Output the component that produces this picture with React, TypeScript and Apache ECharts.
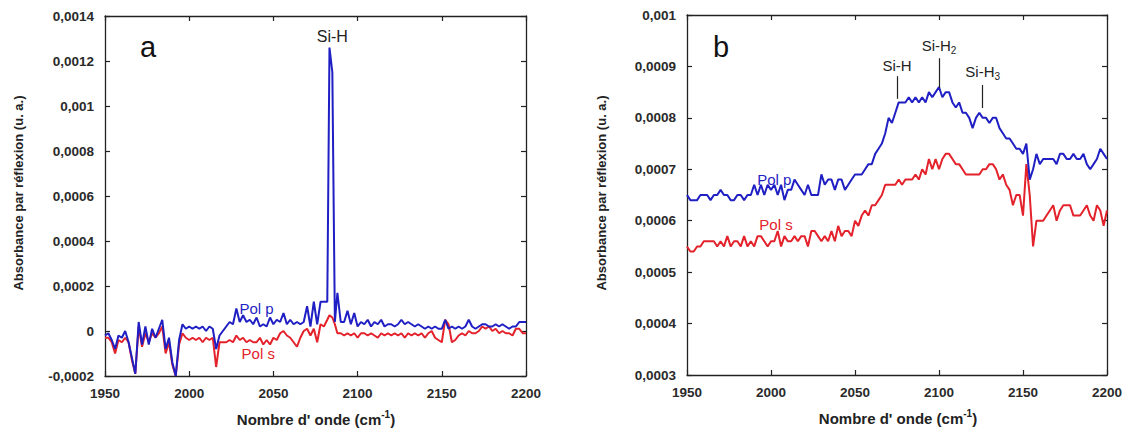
import React, { useEffect, useRef } from "react";
import * as echarts from "echarts";

// ---- Panel a (Si-H region, sample a) ----
const waveA = [
  1950, 1952, 1954, 1956, 1958, 1960, 1962, 1964, 1966, 1968, 1970, 1972, 1974, 1976, 1978, 1980,
  1982, 1984, 1986, 1988, 1990, 1992, 1994, 1996, 1998, 2000, 2002, 2004, 2006, 2008, 2010, 2012,
  2014, 2016, 2018, 2020, 2022, 2024, 2026, 2028, 2030, 2032, 2034, 2036, 2038, 2040, 2042, 2044,
  2046, 2048, 2050, 2052, 2054, 2056, 2058, 2060, 2062, 2064, 2066, 2068, 2070, 2072, 2074, 2076,
  2078, 2080, 2082, 2083.3, 2085, 2086.5, 2088, 2090, 2092, 2094, 2096, 2098, 2100, 2102, 2104, 2106,
  2108, 2110, 2112, 2114, 2116, 2118, 2120, 2122, 2124, 2126, 2128, 2130, 2132, 2134, 2136, 2138,
  2140, 2142, 2144, 2146, 2148, 2150, 2152, 2154, 2156, 2158, 2160, 2162, 2164, 2166, 2168, 2170,
  2172, 2174, 2176, 2178, 2180, 2182, 2184, 2186, 2188, 2190, 2192, 2194, 2196, 2198, 2200,
];
const polPA = [
  -0.2e-4, -0.1e-4, -0.4e-4, -0.8e-4, -0.2e-4, -0.3e-4, 0.0, -0.5e-4, -1.2e-4, -1.9e-4, 0.4e-4, -0.6e-4, 0.2e-4, -0.6e-4, 0.1e-4, -0.3e-4,
  0.1e-4, 0.5e-4, -0.8e-4, -0.3e-4, -1.4e-4, -2.0e-4, -0.4e-4, 0.3e-4, 0.1e-4, 0.2e-4, 0.1e-4, 0.2e-4, 0.1e-4, 0.2e-4, 0.0, 0.2e-4,
  0.1e-4, -0.8e-4, -0.2e-4, 0.0, 0.2e-4, 0.4e-4, 0.3e-4, 1.0e-4, 0.4e-4, 0.7e-4, 0.4e-4, 0.5e-4, 0.3e-4, 0.6e-4, 0.2e-4, 0.3e-4,
  0.2e-4, 0.6e-4, 0.3e-4, 0.5e-4, 0.4e-4, 0.8e-4, 0.3e-4, 0.5e-4, 0.3e-4, 0.4e-4, 0.3e-4, 0.4e-4, 1.1e-4, 0.2e-4, 1.3e-4, 0.3e-4,
  1.3e-4, 1.3e-4, 1.3e-4, 12.6e-4, 11.5e-4, 0.4e-4, 1.7e-4, 0.4e-4, 0.4e-4, 0.9e-4, 0.3e-4, 0.8e-4, 0.2e-4, 0.4e-4, 0.3e-4, 0.5e-4,
  0.2e-4, 0.4e-4, 0.3e-4, 0.5e-4, 0.2e-4, 0.3e-4, 0.3e-4, 0.2e-4, 0.3e-4, 0.5e-4, 0.3e-4, 0.4e-4, 0.3e-4, 0.2e-4, 0.3e-4, 0.2e-4,
  0.1e-4, 0.2e-4, 0.1e-4, 0.2e-4, 0.1e-4, 0.1e-4, 0.5e-4, 0.1e-4, 0.2e-4, 0.1e-4, 0.2e-4, 0.1e-4, 0.2e-4, 0.5e-4, 0.2e-4, 0.1e-4,
  0.2e-4, 0.3e-4, 0.3e-4, 0.2e-4, 0.2e-4, 0.3e-4, 0.2e-4, 0.3e-4, 0.2e-4, 0.1e-4, 0.2e-4, 0.2e-4, 0.4e-4, 0.4e-4, 0.4e-4,
];
const polSA = [
  -0.3e-4, -0.3e-4, -0.5e-4, -1.0e-4, -0.4e-4, -0.5e-4, -0.3e-4, -0.5e-4, -1.3e-4, -1.9e-4, 0.2e-4, -0.7e-4, -0.1e-4, -0.5e-4, -0.1e-4, -0.3e-4,
  -0.1e-4, 0.2e-4, -1.0e-4, -0.5e-4, -1.5e-4, -2.0e-4, -0.6e-4, -0.1e-4, -0.3e-4, -0.4e-4, -0.3e-4, -0.4e-4, -0.3e-4, -0.5e-4, -0.3e-4, -0.4e-4,
  -0.3e-4, -1.6e-4, -0.5e-4, -0.5e-4, -0.5e-4, -0.4e-4, -0.5e-4, -0.2e-4, -0.4e-4, -0.3e-4, -0.5e-4, -0.4e-4, -0.5e-4, -0.5e-4, -0.3e-4, -0.6e-4,
  -0.4e-4, -0.6e-4, -0.3e-4, -0.4e-4, -0.1e-4, 0.0, -0.2e-4, -0.3e-4, -0.5e-4, -0.7e-4, -0.3e-4, 0.0, 0.1e-4, -0.2e-4, 0.1e-4, -0.5e-4,
  0.3e-4, 0.2e-4, 0.5e-4, 0.7e-4, 0.6e-4, 0.3e-4, -0.1e-4, -0.1e-4, -0.2e-4, -0.1e-4, -0.2e-4, -0.1e-4, -0.3e-4, -0.1e-4, -0.1e-4, -0.2e-4,
  -0.1e-4, -0.2e-4, -0.3e-4, -0.1e-4, -0.2e-4, -0.1e-4, -0.2e-4, -0.1e-4, -0.2e-4, -0.1e-4, -0.3e-4, -0.1e-4, -0.2e-4, -0.1e-4, -0.2e-4, -0.1e-4,
  -0.3e-4, -0.1e-4, 0.0, -0.3e-4, -0.4e-4, -0.5e-4, 0.5e-4, 0.3e-4, -0.5e-4, -0.4e-4, -0.2e-4, -0.1e-4, -0.2e-4, 0.0, -0.1e-4, -0.1e-4,
  0.0, 0.2e-4, 0.1e-4, 0.2e-4, 0.0, 0.1e-4, -0.1e-4, 0.0, -0.1e-4, -0.1e-4, -0.2e-4, 0.1e-4, 0.1e-4, -0.1e-4, -0.1e-4,
];

// ---- Panel b ----
const waveB = [
  1950, 1952, 1954, 1956, 1958, 1960, 1962, 1964, 1966, 1968, 1970, 1972, 1974, 1976, 1978, 1980,
  1982, 1984, 1986, 1988, 1990, 1992, 1994, 1996, 1998, 2000, 2002, 2004, 2006, 2008, 2010, 2012,
  2014, 2016, 2018, 2020, 2022, 2024, 2026, 2028, 2030, 2032, 2034, 2036, 2038, 2040, 2042, 2044,
  2046, 2048, 2050, 2052, 2054, 2056, 2058, 2060, 2062, 2064, 2066, 2068, 2070, 2072, 2074, 2076,
  2078, 2080, 2082, 2084, 2086, 2088, 2090, 2092, 2094, 2096, 2098, 2100, 2102, 2104, 2106, 2108,
  2110, 2112, 2114, 2116, 2118, 2120, 2122, 2124, 2126, 2128, 2130, 2132, 2134, 2136, 2138, 2140,
  2142, 2144, 2146, 2148, 2150, 2152, 2154, 2156, 2158, 2160, 2162, 2164, 2166, 2168, 2170, 2172,
  2174, 2176, 2178, 2180, 2182, 2184, 2186, 2188, 2190, 2192, 2194, 2196, 2198, 2200,
];
const polPB = [
  0.00065, 0.00064, 0.00064, 0.00064, 0.00065, 0.00065, 0.00065, 0.00064, 0.00065, 0.00065, 0.00066, 0.00065, 0.00065, 0.00064, 0.00064, 0.00065,
  0.00065, 0.00064, 0.00065, 0.00065, 0.00067, 0.00065, 0.00067, 0.00065, 0.00067, 0.00066, 0.00067, 0.00065, 0.00067, 0.00064, 0.00066, 0.00066,
  0.00068, 0.00067, 0.00066, 0.00065, 0.00067, 0.00065, 0.00065, 0.00065, 0.00069, 0.00067, 0.00068, 0.00068, 0.00066, 0.00068, 0.00068, 0.00066,
  0.00067, 0.00068, 0.00069, 0.00069, 0.00069, 0.0007, 0.00071, 0.00071, 0.00073, 0.00074, 0.00075, 0.00077, 0.0008, 0.00079, 0.00081, 0.00083,
  0.00083, 0.00083, 0.00084, 0.00083, 0.00084, 0.00083, 0.00084, 0.00083, 0.00085, 0.00084, 0.00085, 0.00086, 0.00084, 0.00085, 0.00085, 0.00083,
  0.00082, 0.00083, 0.00081, 0.00081, 0.0008, 0.00078, 0.0008, 0.00081, 0.0008, 0.0008, 0.00079, 0.0008, 0.0008, 0.00078, 0.00077, 0.00076,
  0.00076, 0.00075, 0.00074, 0.00074, 0.00073, 0.00075, 0.00068, 0.0007, 0.00073, 0.00071, 0.00072, 0.00072, 0.00072, 0.00072, 0.00071, 0.00073,
  0.00073, 0.00072, 0.00072, 0.00073, 0.00072, 0.00072, 0.00073, 0.00071, 0.0007, 0.00071, 0.00072, 0.00074, 0.00073, 0.00072,
];
const polSB = [
  0.00055, 0.00054, 0.00054, 0.00055, 0.00055, 0.00056, 0.00056, 0.00056, 0.00056, 0.00055, 0.00056, 0.00055, 0.00057, 0.00055, 0.00056, 0.00056,
  0.00055, 0.00057, 0.00055, 0.00056, 0.00055, 0.00057, 0.00057, 0.00056, 0.00055, 0.00056, 0.00056, 0.00058, 0.00055, 0.00057, 0.00056, 0.00056,
  0.00057, 0.00056, 0.00057, 0.00057, 0.00055, 0.00058, 0.00058, 0.00057, 0.00056, 0.00057, 0.00056, 0.00058, 0.00056, 0.00059, 0.00057, 0.00058,
  0.00058, 0.00057, 0.0006, 0.00059, 0.00061, 0.00062, 0.00061, 0.00063, 0.00063, 0.00064, 0.00065, 0.00067, 0.00067, 0.00067, 0.00067, 0.00068,
  0.00067, 0.00068, 0.00068, 0.00068, 0.00069, 0.00068, 0.0007, 0.00069, 0.00072, 0.0007, 0.00072, 0.0007, 0.00072, 0.00073, 0.00073, 0.00072,
  0.00071, 0.00071, 0.0007, 0.00069, 0.00069, 0.00069, 0.00069, 0.00069, 0.0007, 0.0007, 0.00071, 0.00071, 0.0007, 0.00068, 0.00069, 0.00067,
  0.00066, 0.00063, 0.00065, 0.00065, 0.00061, 0.00071, 0.00065, 0.00055, 0.0006, 0.0006, 0.0006, 0.00061, 0.00062, 0.00063, 0.0006, 0.00062,
  0.00063, 0.00063, 0.00063, 0.00061, 0.00061, 0.00061, 0.00062, 0.00063, 0.00061, 0.0006, 0.00063, 0.00062, 0.00059, 0.00062,
];

// labels
const seriesNames = ["Pol p", "Pol s"];
const labelPosA = [[2040, 0.98e-4], [2041, -1.02e-4]];
const labelPosB = [[2002, 0.000681], [2003, 0.000592]];
const peakLabelA = { text: "Si-H", x: 2085, y: 0.00131 };
const peakMarksB = [
  { text: "Si-H", sub: "", x: 2075, y0: 0.000837, y1: 0.000881 },
  { text: "Si-H", sub: "2", x: 2100, y0: 0.000858, y1: 0.000916 },
  { text: "Si-H", sub: "3", x: 2126, y0: 0.000819, y1: 0.000864 },
];

const BLUE = "#1f1fc4";
const RED = "#e3222b";
const FONT = "Liberation Sans, Arial, sans-serif";
const AX = "#222";

const fmtNum = (v: number) => String(Number(v.toFixed(6))).replace(".", ",");
const fmtInt = (v: number) => String(v);

function axesFor(grid: number, ymin: number, ymax: number, yint: number) {
  const base = {
    gridIndex: grid,
    type: "value" as const,
    axisLine: { show: true, onZero: false, lineStyle: { color: AX, width: 1.3 } },
    axisTick: { show: true, inside: true, length: 5, lineStyle: { color: AX, width: 1.2 } },
    splitLine: { show: false },
  };
  const lab = { fontSize: 13.5, fontWeight: "bold", color: "#2a2a2a", fontFamily: FONT };
  const xs = [
    { ...base, position: "bottom", min: 1950, max: 2200, interval: 50, axisLabel: { ...lab, margin: 10, formatter: fmtInt } },
    { ...base, position: "top", min: 1950, max: 2200, interval: 50, axisLabel: { show: false } },
  ];
  const ys = [
    { ...base, position: "left", min: ymin, max: ymax, interval: yint, axisLabel: { ...lab, margin: 11, formatter: fmtNum } },
    { ...base, position: "right", min: ymin, max: ymax, interval: yint, axisLabel: { show: false } },
  ];
  return { xs, ys };
}

function pairs(xs: number[], ys: number[]) {
  return xs.map((x, i) => [x, ys[i]]);
}

export default function App() {
  const ref = useRef<HTMLDivElement>(null);
  useEffect(() => {
    if (!ref.current) return;
    const chart = echarts.init(ref.current, null, { renderer: "svg" });
    const a = axesFor(0, -0.0002, 0.0014, 0.0002);
    const b = axesFor(1, 0.0003, 0.001, 0.0001);
    const lineBase = { type: "line" as const, showSymbol: false, symbol: "none" };
    const txt = (color: string, size = 15) => ({ fontSize: size, color, fontFamily: FONT });
    const titleStyle = { fontFamily: FONT, fill: "#222", fontWeight: "bold", align: "center", verticalAlign: "middle" };

    chart.setOption({
      animation: false,
      backgroundColor: "#fff",
      grid: [
        { left: 105, top: 16, width: 421, height: 360 },
        { left: 687, top: 15, width: 420, height: 360 },
      ],
      xAxis: [...a.xs, ...b.xs],
      yAxis: [...a.ys, ...b.ys],
      series: [
        {
          ...lineBase, name: seriesNames[1], xAxisIndex: 0, yAxisIndex: 0,
          data: pairs(waveA, polSA), lineStyle: { width: 2, color: RED }, itemStyle: { color: RED },
          markPoint: {
            symbol: "circle", symbolSize: 0,
            label: { show: true, position: "inside", formatter: seriesNames[1], ...txt(RED) },
            data: [{ coord: labelPosA[1] }],
          },
        },
        {
          ...lineBase, name: seriesNames[0], xAxisIndex: 0, yAxisIndex: 0,
          data: pairs(waveA, polPA), lineStyle: { width: 2, color: BLUE }, itemStyle: { color: BLUE },
          markPoint: {
            symbol: "circle", symbolSize: 0,
            label: { show: true, position: "inside", ...txt(BLUE) },
            data: [
              { coord: labelPosA[0], label: { formatter: seriesNames[0], ...txt(BLUE) } },
              { coord: [peakLabelA.x, peakLabelA.y], label: { formatter: peakLabelA.text, ...txt("#222", 16) } },
            ],
          },
        },
        {
          ...lineBase, name: seriesNames[1], xAxisIndex: 2, yAxisIndex: 2,
          data: pairs(waveB, polSB), lineStyle: { width: 2, color: RED }, itemStyle: { color: RED },
          markPoint: {
            symbol: "circle", symbolSize: 0,
            label: { show: true, position: "inside", formatter: seriesNames[1], ...txt(RED) },
            data: [{ coord: labelPosB[1] }],
          },
        },
        {
          ...lineBase, name: seriesNames[0], xAxisIndex: 2, yAxisIndex: 2,
          data: pairs(waveB, polPB), lineStyle: { width: 2, color: BLUE }, itemStyle: { color: BLUE },
          markPoint: {
            symbol: "circle", symbolSize: 0,
            label: { show: true, position: "inside", formatter: seriesNames[0], ...txt(BLUE) },
            data: [{ coord: labelPosB[0] }],
          },
          markLine: {
            silent: true,
            symbol: ["none", "none"],
            lineStyle: { color: "#222", width: 1.2, type: "solid" },
            label: {
              show: true, position: "end", distance: 3, ...txt("#222", 15),
              rich: { s: { fontSize: 10, fontFamily: FONT, color: "#222", padding: [10, 0, 0, 0] } },
            },
            data: peakMarksB.map((m) => [
              { coord: [m.x, m.y0], label: { formatter: m.sub ? `${m.text}{s|${m.sub}}` : m.text } },
              { coord: [m.x, m.y1] },
            ]),
          },
        },
      ],
      graphic: [
        { type: "text", x: 148, y: 47, style: { text: "a", fontSize: 29, fontFamily: FONT, fill: "#111", align: "center", verticalAlign: "middle" } },
        { type: "text", x: 721, y: 47, style: { text: "b", fontSize: 29, fontFamily: FONT, fill: "#111", align: "center", verticalAlign: "middle" } },
        { type: "text", x: 18, y: 193, rotation: Math.PI / 2, style: { text: "Absorbance par réflexion (u. a.)", fontSize: 13, ...titleStyle } },
        { type: "text", x: 601, y: 193, rotation: Math.PI / 2, style: { text: "Absorbance par réflexion (u. a.)", fontSize: 13, ...titleStyle } },
        {
          type: "text", x: 316, y: 419,
          style: {
            text: "Nombre d' onde (cm{sup|-1})", fontSize: 15, ...titleStyle,
            rich: { sup: { fontSize: 10, fontFamily: FONT, fontWeight: "bold", fill: "#222", padding: [0, 0, 9, 0] } },
          },
        },
        {
          type: "text", x: 898, y: 418,
          style: {
            text: "Nombre d' onde (cm{sup|-1})", fontSize: 15, ...titleStyle,
            rich: { sup: { fontSize: 10, fontFamily: FONT, fontWeight: "bold", fill: "#222", padding: [0, 0, 9, 0] } },
          },
        },
      ],
    });
    return () => chart.dispose();
  }, []);
  return <div ref={ref} style={{ position: "fixed", left: 0, top: 0, width: 1127, height: 430, background: "#fff" }} />;
}
